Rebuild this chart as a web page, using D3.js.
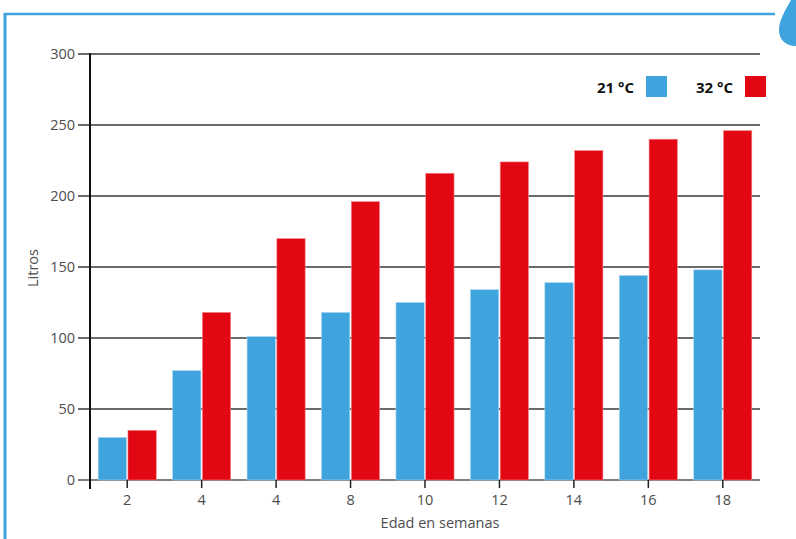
<!DOCTYPE html>
<html>
<head>
	<meta charset="UTF-8" />
	<title>Litros por edad</title>
	<script src="https://d3js.org/d3.v7.min.js"></script>
	<style>
		body { margin: 0; background: #fff; }
		text { font-family: "Open Sans", "Noto Sans", sans-serif; }
	</style>
</head>
<body>
	<svg id="chart" width="796" height="539"></svg>

	<script type="text/javascript">
	// data
	var weeks = ["2", "4", "4", "8", "10", "12", "14", "16", "18"]
	var temp21 = [30, 77, 101, 118, 125, 134, 139, 144, 148]
	var temp32 = [35, 118, 170, 196, 216, 224, 232, 240, 246]
	var yTicks = [0, 50, 100, 150, 200, 250, 300]
	var seriesNames = ["21 °C", "32 °C"]

	// colours
	blue = "#3fa3dd"
	red = "#e30613"
	grid = "#3a3a3a"
	textGray = "#4d4d4d"

	var svg = d3.select("#chart")

	// frame on the page
	svg.append("line")
		.attr("x1", 5).attr("x2", 5).attr("y1", 13).attr("y2", 539)
		.style("stroke", blue).style("stroke-width", 3)
	svg.append("line")
		.attr("x1", 4).attr("x2", 775).attr("y1", 14).attr("y2", 14)
		.style("stroke", blue).style("stroke-width", 2.5)
	svg.append("path")
		.attr("d", "M796,0 L791,0 C786,9 779,20 779,30 C779,40 786,46 796,46 Z")
		.style("fill", blue)

	// scales
	var idx = weeks.map((d, i) => i)
	var x = d3.scaleBand()
		.domain(idx)
		.range([90, 760])
		.paddingInner(0.22)
		.paddingOuter(0.11)
	var x1 = d3.scaleBand()
		.domain([0, 1])
		.range([0, x.bandwidth()])
		.paddingInner(0.05)
	var y = d3.scaleLinear()
		.domain([0, 300])
		.range([480, 54])

	// grid lines
	svg.append("g")
		.selectAll("line")
		.data(yTicks)
		.enter()
		.append("line")
		.attr("x1", 78).attr("x2", 760)
		.attr("y1", d => y(d)).attr("y2", d => y(d))
		.style("stroke", d => d == 0 ? "#555" : grid)
		.style("stroke-width", 1.6)

	// y labels
	svg.append("g")
		.selectAll("text")
		.data(yTicks)
		.enter()
		.append("text")
		.attr("x", 75)
		.attr("y", d => y(d) + 5)
		.attr("text-anchor", "end")
		.style("font-size", "14.5px")
		.style("fill", textGray)
		.text(d => d)

	// bars
	var groups = svg.append("g")
		.selectAll("g")
		.data(idx)
		.enter()
		.append("g")
		.attr("transform", d => "translate(" + x(d) + ",0)")

	groups.append("rect")
		.attr("x", x1(0))
		.attr("width", x1.bandwidth())
		.attr("y", d => y(temp21[d]))
		.attr("height", d => y(0) - y(temp21[d]))
		.style("fill", blue)
		.style("stroke", "#a9d4f0")
		.style("stroke-width", 0.6)

	groups.append("rect")
		.attr("x", x1(1))
		.attr("width", x1.bandwidth())
		.attr("y", d => y(temp32[d]))
		.attr("height", d => y(0) - y(temp32[d]))
		.style("fill", red)
		.style("stroke", "#f3868c")
		.style("stroke-width", 0.6)

	// axes lines
	svg.append("line")
		.attr("x1", 90).attr("x2", 90).attr("y1", 53).attr("y2", 489)
		.style("stroke", "#111").style("stroke-width", 2)

	svg.append("g")
		.selectAll("line")
		.data(idx)
		.enter()
		.append("line")
		.attr("x1", d => x(d) + x.bandwidth() / 2)
		.attr("x2", d => x(d) + x.bandwidth() / 2)
		.attr("y1", 480).attr("y2", 488)
		.style("stroke", "#222").style("stroke-width", 1.5)

	svg.append("g")
		.selectAll("text")
		.data(idx)
		.enter()
		.append("text")
		.attr("x", d => x(d) + x.bandwidth() / 2)
		.attr("y", 505)
		.attr("text-anchor", "middle")
		.style("font-size", "14.5px")
		.style("fill", textGray)
		.text(d => weeks[d])

	// axis titles
	svg.append("text")
		.attr("x", 440).attr("y", 528)
		.attr("text-anchor", "middle")
		.style("font-size", "14.5px")
		.style("fill", textGray)
		.text("Edad en semanas")

	svg.append("text")
		.attr("transform", "translate(38,268) rotate(-90)")
		.attr("text-anchor", "middle")
		.style("font-size", "14.5px")
		.style("fill", textGray)
		.text("Litros")

	// legend
	var legendX = [634, 733]
	var legendColors = [blue, red]
	var legend = svg.append("g")
		.selectAll("g")
		.data(seriesNames)
		.enter()
		.append("g")
	legend.append("text")
		.attr("x", (d, i) => legendX[i])
		.attr("y", 93)
		.attr("text-anchor", "end")
		.style("font-size", "15px")
		.style("font-weight", "bold")
		.style("fill", "#111")
		.text(d => d)
	legend.append("rect")
		.attr("x", (d, i) => legendX[i] + 12)
		.attr("y", 76)
		.attr("width", 21).attr("height", 21)
		.style("fill", (d, i) => legendColors[i])
	</script>
</body>
</html>
